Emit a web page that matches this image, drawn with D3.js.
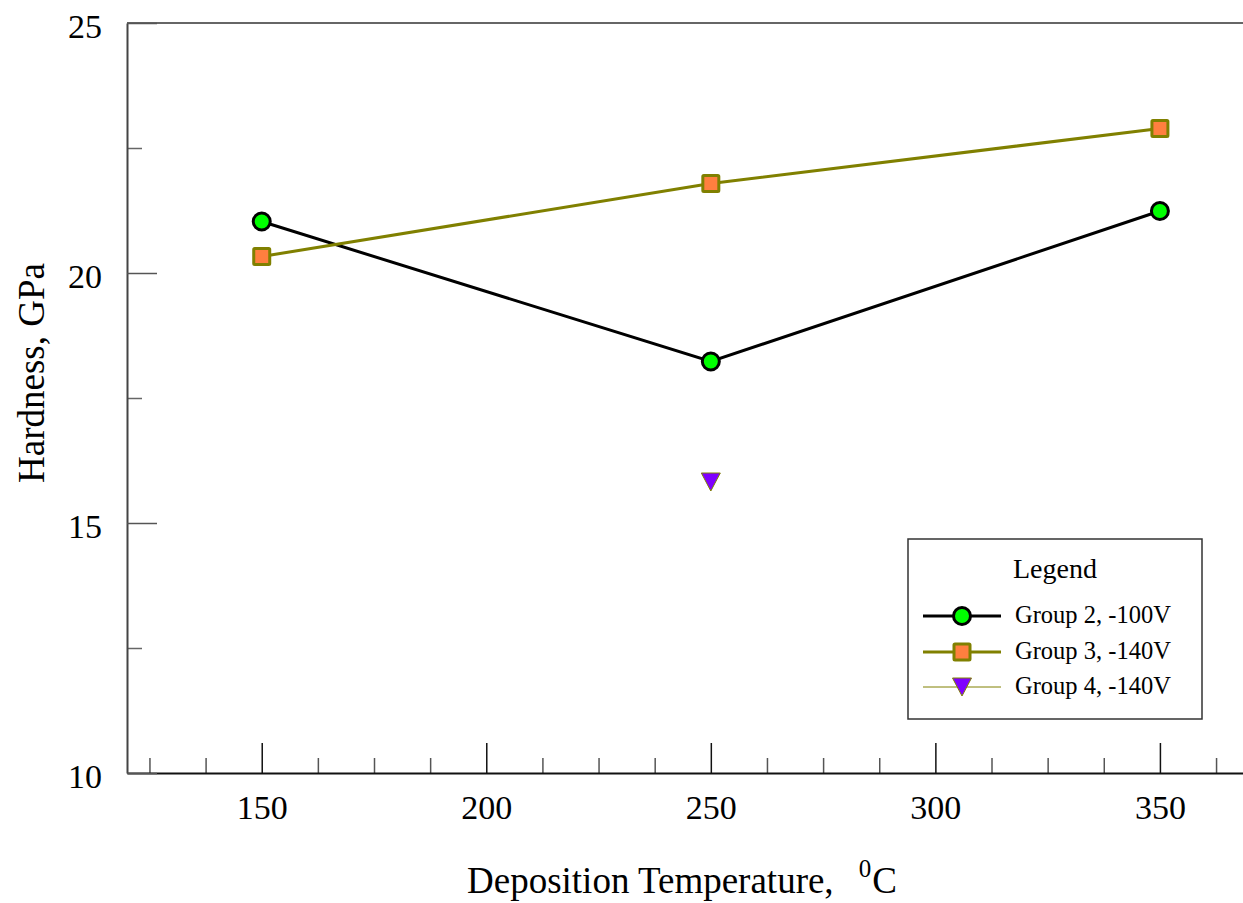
<!DOCTYPE html>
<html>
<head>
<meta charset="utf-8">
<script src="https://cdn.jsdelivr.net/npm/d3@7"></script>
<style>
  html, body { margin: 0; padding: 0; background: #fff; }
  svg { display: block; font-family: "Liberation Serif", "Times New Roman", serif; }
</style>
</head>
<body>
<svg id="chart" width="1243" height="903"></svg>
<script>
// Hardness vs deposition temperature, three sample groups
const temperatures = [150, 250, 350];
const group2 = [21.03, 18.23, 21.24];   // -100V
const group3 = [20.33, 21.79, 22.89];   // -140V
const group4Temps = [250];
const group4 = [15.82];                  // -140V

const xMajorTicks = [150, 200, 250, 300, 350];
const xMinorTicks = [125, 137.5, 162.5, 175, 187.5, 212.5, 225, 237.5, 262.5, 275, 287.5, 312.5, 325, 337.5, 362.5];
const yMajorTicks = [10, 15, 20, 25];
const yMinorTicks = [12.5, 17.5, 22.5];

const legendLabels = ["Group 2, -100V", "Group 3, -140V", "Group 4, -140V"];

const svg = d3.select("#chart");
const plotLeft = 127, plotRight = 1243, plotTop = 23, plotBottom = 773;
const serif = "'Liberation Serif', 'Times New Roman', serif";

const x = d3.scaleLinear().domain([120, 368.5]).range([plotLeft, plotRight]);
const y = d3.scaleLinear().domain([10, 25]).range([plotBottom, plotTop]);

// frame: top rule
svg.append("line")
  .attr("x1", plotLeft).attr("x2", plotRight).attr("y1", plotTop).attr("y2", plotTop)
  .attr("stroke", "#666").attr("stroke-width", 2);

// x axis, ticks pointing into the plot
const gxMinor = svg.append("g").attr("transform", `translate(0,${plotBottom})`)
  .call(d3.axisBottom(x).tickValues(xMinorTicks).tickSizeInner(-15).tickSizeOuter(0).tickFormat(""));
gxMinor.select(".domain").remove();
gxMinor.selectAll(".tick line").attr("stroke", "#555").attr("stroke-width", 1.5);

const gx = svg.append("g").attr("transform", `translate(0,${plotBottom})`)
  .call(d3.axisBottom(x).tickValues(xMajorTicks).tickSizeInner(-30).tickSizeOuter(0).tickPadding(22).tickFormat(d3.format("d")));
gx.select(".domain").attr("stroke", "#111").attr("stroke-width", 2);
gx.selectAll(".tick line").attr("stroke", "#111").attr("stroke-width", 1.5);
gx.selectAll(".tick text").attr("font-size", 34).attr("fill", "#000").attr("font-family", serif);

// y axis
const gyMinor = svg.append("g").attr("transform", `translate(${plotLeft},0)`)
  .call(d3.axisLeft(y).tickValues(yMinorTicks).tickSizeInner(-15).tickSizeOuter(0).tickFormat(""));
gyMinor.select(".domain").remove();
gyMinor.selectAll(".tick line").attr("stroke", "#666").attr("stroke-width", 1.5);

const gy = svg.append("g").attr("transform", `translate(${plotLeft},0)`)
  .call(d3.axisLeft(y).tickValues(yMajorTicks).tickSizeInner(-30).tickSizeOuter(0).tickPadding(25).tickFormat(d3.format("d")));
gy.select(".domain").attr("stroke", "#444").attr("stroke-width", 2);
gy.selectAll(".tick line").attr("stroke", "#555").attr("stroke-width", 1.5);
gy.selectAll(".tick text").attr("font-size", 34).attr("fill", "#000").attr("dy", "0.44em")
  .attr("font-family", serif);

// axis titles
const xTitle = svg.append("text")
  .attr("x", 467).attr("y", 893)
  .attr("font-size", 37).attr("fill", "#000");
xTitle.append("tspan").text("Deposition Temperature,");
xTitle.append("tspan").attr("font-size", 25).attr("dy", -16).attr("dx", 25).text("0");
xTitle.append("tspan").attr("dy", 16).attr("dx", 1).text("C");

svg.append("text")
  .attr("transform", "translate(44,373) rotate(-90)")
  .attr("text-anchor", "middle")
  .attr("font-size", 37).attr("fill", "#000")
  .text("Hardness, GPa");

// series
const lineGen = d3.line().x(d => x(d[0])).y(d => y(d[1]));
const olive = "#808000";

const g2pts = temperatures.map((t, i) => [t, group2[i]]);
const g3pts = temperatures.map((t, i) => [t, group3[i]]);
const g4pts = group4Temps.map((t, i) => [t, group4[i]]);

svg.append("path").datum(g2pts).attr("d", lineGen)
  .attr("fill", "none").attr("stroke", "#000").attr("stroke-width", 3);
svg.append("path").datum(g3pts).attr("d", lineGen)
  .attr("fill", "none").attr("stroke", olive).attr("stroke-width", 3);

function circleMark(sel, cx, cy) {
  sel.append("circle").attr("cx", cx).attr("cy", cy).attr("r", 8.5)
    .attr("fill", "#00ff00").attr("stroke", "#000").attr("stroke-width", 3);
}
function squareMark(sel, cx, cy) {
  sel.append("rect").attr("x", cx - 8).attr("y", cy - 8).attr("width", 16).attr("height", 16)
    .attr("fill", "#ff7f3f").attr("stroke", olive).attr("stroke-width", 3).attr("rx", 1);
}
function triangleMark(sel, cx, cy) {
  const w = 9.5, h = 9;
  sel.append("path")
    .attr("d", `M${cx - w},${cy - h}L${cx + w},${cy - h}L${cx},${cy + h}Z`)
    .attr("fill", "#7f00ff").attr("stroke", olive).attr("stroke-width", 1);
}

g2pts.forEach(d => circleMark(svg, x(d[0]), y(d[1])));
g3pts.forEach(d => squareMark(svg, x(d[0]), y(d[1])));
g4pts.forEach(d => triangleMark(svg, x(d[0]), y(d[1])));

// legend
const lg = svg.append("g");
lg.append("rect").attr("x", 908).attr("y", 539).attr("width", 294).attr("height", 180)
  .attr("fill", "#fff").attr("stroke", "#333").attr("stroke-width", 1.5);
lg.append("text").attr("x", 1055).attr("y", 578).attr("text-anchor", "middle")
  .attr("font-size", 28).attr("fill", "#000").text("Legend");

const rowsY = [616, 652, 687];
const lineStyles = [
  { stroke: "#000", width: 3 },
  { stroke: olive, width: 3 },
  { stroke: olive, width: 1 }
];
const markers = [circleMark, squareMark, triangleMark];
legendLabels.forEach((label, i) => {
  const ry = rowsY[i];
  lg.append("line").attr("x1", 923).attr("x2", 1001).attr("y1", ry).attr("y2", ry)
    .attr("stroke", lineStyles[i].stroke).attr("stroke-width", lineStyles[i].width);
  markers[i](lg, 962, ry);
  lg.append("text").attr("x", 1015).attr("y", ry + 7)
    .attr("font-size", 24.5).attr("fill", "#000").text(label);
});
</script>
</body>
</html>
